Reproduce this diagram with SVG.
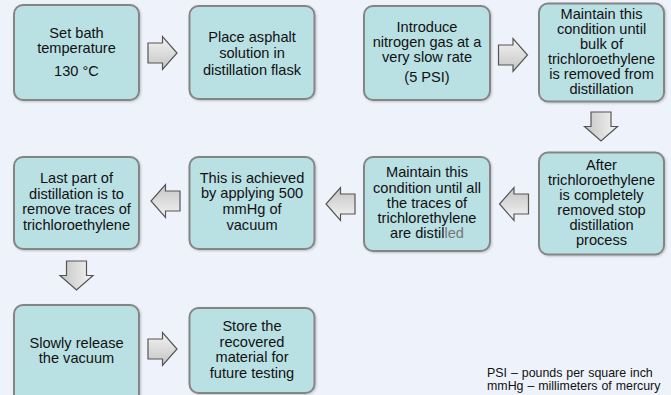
<svg xmlns="http://www.w3.org/2000/svg" xmlns:xlink="http://www.w3.org/1999/xlink" width="671" height="395" viewBox="0 0 671 395">
<style>
.box{fill:#B9E0E3;stroke:#858585;stroke-width:2}
.t{font-family:"Liberation Sans",Arial,sans-serif;font-size:14.6px;fill:#111;text-anchor:middle}
.leg{font-family:"Liberation Sans",Arial,sans-serif;font-size:12.4px;fill:#111;word-spacing:0.5px}
.arr{fill:url(#ag);stroke:#555;stroke-width:1.2;stroke-linejoin:miter}
</style>
<defs>
<linearGradient id="ag" x1="0" y1="0" x2="0" y2="1">
<stop offset="0" stop-color="#f4f4f4"/>
<stop offset="1" stop-color="#c4c4c4"/>
</linearGradient>
<path id="arrow" class="arr" d="M-14.5,-10 L0,-10 L0,-16.5 L14.5,0 L0,16.5 L0,10 L-14.5,10 Z"/>
<filter id="sh" x="-10%" y="-10%" width="130%" height="130%">
<feDropShadow dx="1" dy="1" stdDeviation="1" flood-color="#000" flood-opacity="0.2"/>
</filter>
</defs>
<rect width="671" height="395" fill="#EEF2FA"/>

<g id="connectors">
<use xlink:href="#arrow" transform="translate(162.5,53)"/>
<use xlink:href="#arrow" transform="translate(513,55)"/>
<use xlink:href="#arrow" transform="translate(601,126.5) rotate(90)"/>
<use xlink:href="#arrow" transform="translate(514,204) rotate(180)"/>
<use xlink:href="#arrow" transform="translate(340.5,204) rotate(180)"/>
<use xlink:href="#arrow" transform="translate(165.5,201) rotate(180)"/>
<use xlink:href="#arrow" transform="translate(76.5,275.5) rotate(90)"/>
<use xlink:href="#arrow" transform="translate(162.5,349)"/>
</g>

<g id="n1">
<rect class="box" x="14" y="5" width="125" height="95" rx="9" filter="url(#sh)"/>
<text class="t" x="76.5" y="38">Set bath</text>
<text class="t" x="76.5" y="53">temperature</text>
<text class="t" x="76.5" y="76">130 °C</text>
</g>
<g id="n2">
<rect class="box" x="189.5" y="6" width="125" height="93" rx="9" filter="url(#sh)"/>
<text class="t" x="252" y="42">Place asphalt</text>
<text class="t" x="252" y="58">solution in</text>
<text class="t" x="252" y="75">distillation flask</text>
</g>
<g id="n3">
<rect class="box" x="364" y="6" width="126" height="94" rx="9" filter="url(#sh)"/>
<text class="t" x="427" y="32">Introduce</text>
<text class="t" x="427" y="47">nitrogen gas at a</text>
<text class="t" x="427" y="62">very slow rate</text>
<text class="t" x="427" y="82">(5 PSI)</text>
</g>
<g id="n4">
<rect class="box" x="539" y="3.5" width="125" height="98" rx="9" filter="url(#sh)"/>
<text class="t" x="601.5" y="19">Maintain this</text>
<text class="t" x="601.5" y="34">condition until</text>
<text class="t" x="601.5" y="49">bulk of</text>
<text class="t" x="601.5" y="64">trichloroethylene</text>
<text class="t" x="601.5" y="79">is removed from</text>
<text class="t" x="601.5" y="94">distillation</text>
</g>
<g id="n5">
<rect class="box" x="364" y="157" width="126" height="94" rx="9" filter="url(#sh)"/>
<text class="t" x="427" y="177">Maintain this</text>
<text class="t" x="427" y="193">condition until all</text>
<text class="t" x="427" y="208">the traces of</text>
<text class="t" x="427" y="223">trichlorethylene</text>
<text class="t" x="427" y="238">are distil<tspan fill="#777">led</tspan></text>
</g>
<g id="n6">
<rect class="box" x="539" y="152.5" width="125" height="102" rx="9" filter="url(#sh)"/>
<text class="t" x="601.5" y="170">After</text>
<text class="t" x="601.5" y="185">trichloroethylene</text>
<text class="t" x="601.5" y="200">is completely</text>
<text class="t" x="601.5" y="215">removed stop</text>
<text class="t" x="601.5" y="230">distillation</text>
<text class="t" x="601.5" y="245">process</text>
</g>
<g id="n7">
<rect class="box" x="14" y="157" width="125" height="92" rx="9" filter="url(#sh)"/>
<text class="t" x="76.5" y="183">Last part of</text>
<text class="t" x="76.5" y="199">distillation is to</text>
<text class="t" x="76.5" y="214">remove traces of</text>
<text class="t" x="76.5" y="230">trichloroethylene</text>
</g>
<g id="n8">
<rect class="box" x="189.5" y="157" width="125" height="92" rx="9" filter="url(#sh)"/>
<text class="t" x="252" y="183">This is achieved</text>
<text class="t" x="252" y="198">by applying 500</text>
<text class="t" x="252" y="214">mmHg of</text>
<text class="t" x="252" y="230">vacuum</text>
</g>
<g id="n9">
<rect class="box" x="14" y="305" width="125" height="100" rx="9" filter="url(#sh)"/>
<text class="t" x="76.5" y="348">Slowly release</text>
<text class="t" x="76.5" y="363">the vacuum</text>
</g>
<g id="n10">
<rect class="box" x="189.5" y="308" width="125" height="85" rx="9" filter="url(#sh)"/>
<text class="t" x="252" y="331">Store the</text>
<text class="t" x="252" y="347">recovered</text>
<text class="t" x="252" y="362">material for</text>
<text class="t" x="252" y="378">future testing</text>
</g>

<g id="legend">
<text class="leg" x="487" y="377">PSI – pounds per square inch</text>
<text class="leg" x="487" y="390">mmHg – millimeters of mercury</text>
</g>
</svg>
